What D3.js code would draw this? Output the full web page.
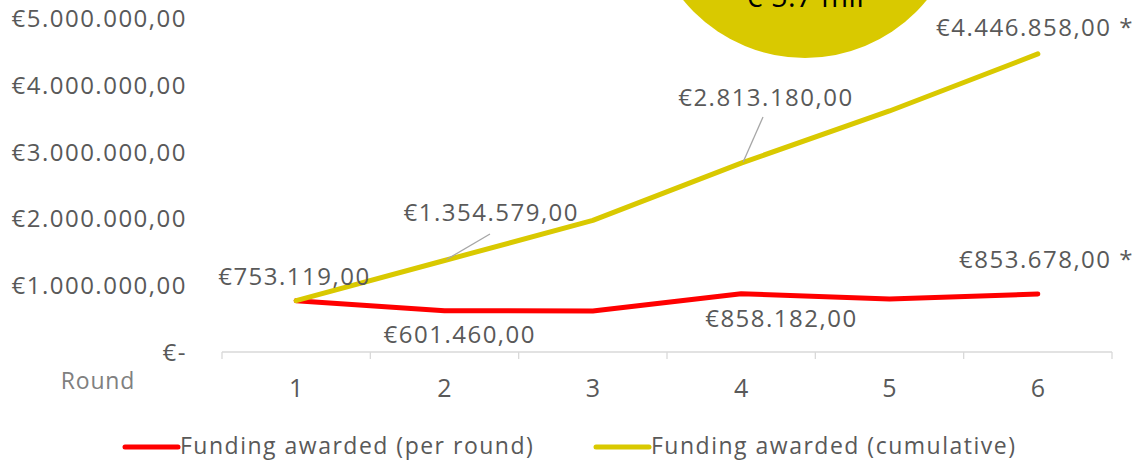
<!DOCTYPE html>
<html><head><meta charset="utf-8">
<script src="https://cdn.jsdelivr.net/npm/d3@7"></script>
<style>body{margin:0;background:#fff}</style>
</head><body><svg id="c" width="1134" height="462"></svg>
<script>
const rounds = ["1","2","3","4","5","6"];
const perRound = [753119, 601460, 600419, 858182, 780000, 853678];
const cumulative = [753119, 1354579, 1954998, 2813180, 3593180, 4446858];
const yTicks = [0, 1000000, 2000000, 3000000, 4000000, 5000000];
const yTickLabels = ["€-", "€1.000.000,00", "€2.000.000,00", "€3.000.000,00", "€4.000.000,00", "€5.000.000,00"];
const seriesNames = ["Funding awarded (per round)", "Funding awarded (cumulative)"];
const perRoundLabels = ["€753.119,00", "€601.460,00", null, "€858.182,00", null, "€853.678,00 *"];
const cumLabels = [null, "€1.354.579,00", null, "€2.813.180,00", null, "€4.446.858,00 *"];
const bubbleText = "€ 5.7 mil";

const RED = "#ff0000", YEL = "#d9c900", TXT = "#595959";
const FONT = "'Open Sans', 'Noto Sans', sans-serif";
const svg = d3.select("#c").style("font-family", FONT);

const x = d3.scaleBand().domain(rounds).range([222, 1112]);
const y = d3.scaleLinear().domain([0, 5000000]).range([351, 17]);
const cx = d => x(d) + x.bandwidth()/2;

// bubble
svg.append("circle").attr("cx", 805).attr("cy", -99).attr("r", 157).attr("fill", YEL);
svg.append("text").attr("x", 805).attr("y", 7).attr("text-anchor", "middle")
  .attr("font-size", 29).attr("letter-spacing", 0.5).attr("fill", "#000").text(bubbleText);

// x axis
const xa = svg.append("g");
xa.append("line").attr("x1", 222).attr("x2", 1112).attr("y1", 352).attr("y2", 352).attr("stroke", "#d9d9d9").attr("stroke-width", 1.3);
const bounds = rounds.map(r => x(r)).concat([x(rounds[rounds.length-1]) + x.bandwidth()]);
xa.selectAll(".tk").data(bounds).join("line").attr("x1", d => d).attr("x2", d => d)
  .attr("y1", 352).attr("y2", 359).attr("stroke", "#d9d9d9").attr("stroke-width", 1.3);
xa.selectAll(".xl").data(rounds).join("text").attr("x", d => cx(d)).attr("y", 397)
  .attr("text-anchor", "middle").attr("font-size", 25).attr("fill", TXT).text(d => d);
svg.append("text").attr("x", 98).attr("y", 389).attr("text-anchor", "middle")
  .attr("font-size", 23).attr("letter-spacing", 0.8).attr("fill", "#808080").text("Round");

// y labels
svg.selectAll(".yl").data(yTicks).join("text").attr("x", 187).attr("y", d => y(d) + 10)
  .attr("text-anchor", "end").attr("font-size", 24).attr("letter-spacing", 1.5).attr("fill", TXT)
  .text((d, i) => yTickLabels[i]);

// lines
const line = vals => d3.line().x((d, i) => cx(rounds[i])).y(d => y(d))(vals);
svg.append("path").attr("d", line(perRound)).attr("fill", "none").attr("stroke", RED)
  .attr("stroke-width", 5).attr("stroke-linecap", "round").attr("stroke-linejoin", "round");
svg.append("path").attr("d", line(cumulative)).attr("fill", "none").attr("stroke", YEL)
  .attr("stroke-width", 5).attr("stroke-linecap", "round").attr("stroke-linejoin", "round");

// leader lines
const leaders = [{i:1, lx:490, ly:234}, {i:3, lx:763, ly:117}];
leaders.forEach(l => {
  svg.append("line").attr("x1", l.lx).attr("y1", l.ly).attr("x2", cx(rounds[l.i]) + 2).attr("y2", y(cumulative[l.i]) - 1)
    .attr("stroke", "#a6a6a6").attr("stroke-width", 1.3);
});

// data labels
const lab = (tx, ty, anchor, s) => svg.append("text").attr("x", tx).attr("y", ty).attr("text-anchor", anchor)
  .attr("font-size", 24).attr("letter-spacing", 1.5).attr("fill", TXT).text(s);
lab(cx(rounds[0]) - 78, y(perRound[0]) - 16, "start", perRoundLabels[0]);
lab(cx(rounds[1]) - 61, y(perRound[1]) + 32, "start", perRoundLabels[1]);
lab(cx(rounds[3]) - 36, y(perRound[3]) + 33, "start", perRoundLabels[3]);
lab(1134, y(perRound[5]) - 26, "end", perRoundLabels[5]);
lab(cx(rounds[1]) - 41, y(cumulative[1]) - 40, "start", cumLabels[1]);
lab(cx(rounds[3]) - 63, y(cumulative[3]) - 57, "start", cumLabels[3]);
lab(1134, y(cumulative[5]) - 18, "end", cumLabels[5]);

// legend
const leg = [{c: RED, x1: 125, x2: 178, tx: 180, t: seriesNames[0]}, {c: YEL, x1: 596, x2: 649, tx: 651, t: seriesNames[1]}];
leg.forEach(l => {
  svg.append("line").attr("x1", l.x1).attr("x2", l.x2).attr("y1", 447).attr("y2", 447)
    .attr("stroke", l.c).attr("stroke-width", 5).attr("stroke-linecap", "round");
  svg.append("text").attr("x", l.tx).attr("y", 454).attr("font-size", 23).attr("letter-spacing", 1.5)
    .attr("fill", TXT).text(l.t);
});
</script></body></html>
